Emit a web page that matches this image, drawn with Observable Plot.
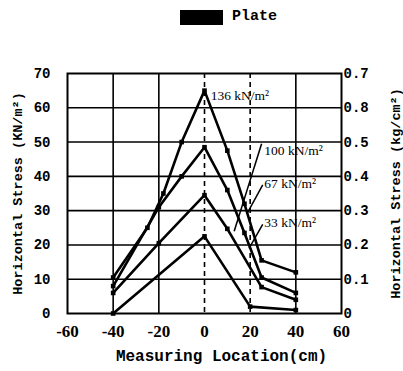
<!DOCTYPE html>
<html>
<head>
<meta charset="utf-8">
<script src="https://cdn.jsdelivr.net/npm/d3@7"></script>
<script src="https://cdn.jsdelivr.net/npm/@observablehq/plot@0.6"></script>
<style>
  html, body { margin: 0; padding: 0; background: white; }
  #legend { position: relative; width: 403px; height: 40px; }
  #legend .sw { position: absolute; left: 180px; top: 10px; width: 43px; height: 15px; background: black; }
  #legend .lb { position: absolute; left: 232px; top: 8px; font: bold 15px "Liberation Mono", monospace; color: black; }
</style>
</head>
<body>
<div id="legend"><div class="sw"></div><div class="lb">Plate</div></div>
<div id="chart"></div>
<script>
// ---- data ----
const xTicks = [-60, -40, -20, 0, 20, 40, 60];
const xTickLabels = ["-60", "-40", "-20", "0", "20", "40", "60"];
const yTicks = [0, 10, 20, 30, 40, 50, 60, 70];
const rightLabels = ["0", "0.1", "0.2", "0.3", "0.4", "0.5", "0.8", "0.7"];

const seriesNames = ["136 kN/m²", "100 kN/m²", "67 kN/m²", "33 kN/m²"];
const loc136 = [-40, -25, -18, -10, 0, 10, 17.5, 25, 40];
const stress136 = [10.5, 25, 35, 50, 65, 47.5, 32, 15.5, 12];
const loc100 = [-40, -20, -10, 0, 10, 17.5, 25, 40];
const stress100 = [8, 31, 40, 48.5, 36, 23.5, 10.5, 6];
const loc67 = [-40, -20, 0, 10, 25, 40];
const stress67 = [6, 20.5, 34.5, 24.7, 7.7, 4];
const loc33 = [-40, 0, 20, 40];
const stress33 = [0, 22.5, 2, 1];

// label positions and leader lines
const labelX = [2.7, 26.2, 26.2, 26.2];
const labelY = [63.5, 47.5, 37.9, 26.5];
const leaderX1 = [25, 25.5, 25.5];
const leaderY1 = [49.5, 37.5, 26];
const leaderX2 = [13, 18.5, 19.5];
const leaderY2 = [24, 29, 19];

const gridSolidX = [-40, -20, 40];
const gridDashedX = [0, 20];
const gridY = [10, 20, 30, 40, 50, 60];

// ---- build table ----
const locs = [loc136, loc100, loc67, loc33];
const stresses = [stress136, stress100, stress67, stress33];
const rows = [];
seriesNames.forEach((s, k) => {
  locs[k].forEach((x, i) => rows.push({series: s, loc: x, stress: stresses[k][i]}));
});
const labels = seriesNames.map((s, i) => ({text: s, x: labelX[i], y: labelY[i]}));
const leaders = leaderX1.map((x, i) => ({x1: x, y1: leaderY1[i], x2: leaderX2[i], y2: leaderY2[i]}));

const chart = Plot.plot({
  width: 403,
  height: 331,
  marginTop: 33,
  marginBottom: 58,
  marginLeft: 67,
  marginRight: 62,
  x: {domain: [-60, 60]},
  y: {domain: [0, 70]},
  style: {background: "white", color: "black", fontFamily: "Liberation Mono, monospace"},
  marks: [
    Plot.ruleY(gridY, {stroke: "black", strokeWidth: 1.6}),
    Plot.ruleX(gridSolidX, {stroke: "black", strokeWidth: 1.6}),
    Plot.ruleX(gridDashedX, {stroke: "black", strokeWidth: 1.6, strokeDasharray: "5,4"}),
    Plot.frame({stroke: "black", strokeWidth: 2}),
    Plot.line(rows, {x: "loc", y: "stress", z: "series", stroke: "black", strokeWidth: 2.6}),
    Plot.dot(rows, {x: "loc", y: "stress", symbol: "square", r: 2.6, fill: "black"}),
    Plot.link(leaders, {x1: "x1", y1: "y1", x2: "x2", y2: "y2", stroke: "black", strokeWidth: 1.5}),
    Plot.text(labels, {x: "x", y: "y", text: "text", textAnchor: "start",
      fontFamily: "Liberation Serif, serif", fontSize: 13.5, letterSpacing: -0.5, fill: "black"}),
    Plot.axisY({anchor: "left", ticks: yTicks, tickSize: 0, tickPadding: 17, label: null,
      fontSize: 14, fontWeight: "bold", fontFamily: "Liberation Mono, monospace"}),
    Plot.axisY({anchor: "right", ticks: yTicks, tickSize: 0, tickPadding: 2, label: null,
      tickFormat: d => rightLabels[yTicks.indexOf(d)],
      fontSize: 14, fontWeight: "bold", fontFamily: "Liberation Mono, monospace"}),
    Plot.axisX({ticks: xTicks, tickSize: 0, tickPadding: 11, label: null,
      tickFormat: d => xTickLabels[xTicks.indexOf(d)],
      fontSize: 17, fontWeight: "bold", fontFamily: "Liberation Serif, serif", letterSpacing: -1}),
    Plot.text(["Horizontal Stress (KN/m²)"], {frameAnchor: "left", textAnchor: "middle", dx: -50, rotate: -90,
      fontSize: 13.5, fontWeight: "bold", fontFamily: "Liberation Mono, monospace", fill: "black"}),
    Plot.text(["Horizontal Stress (kg/cm²)"], {frameAnchor: "right", textAnchor: "middle", dx: 54, rotate: -90,
      fontSize: 13.5, fontWeight: "bold", fontFamily: "Liberation Mono, monospace", fill: "black"}),
    Plot.text(["Measuring Location(cm)"], {frameAnchor: "bottom", dx: 17, dy: 47,
      fontSize: 16, fontWeight: "bold", fontFamily: "Liberation Mono, monospace", fill: "black"})
  ]
});
document.getElementById("chart").appendChild(chart);
</script>
</body>
</html>
